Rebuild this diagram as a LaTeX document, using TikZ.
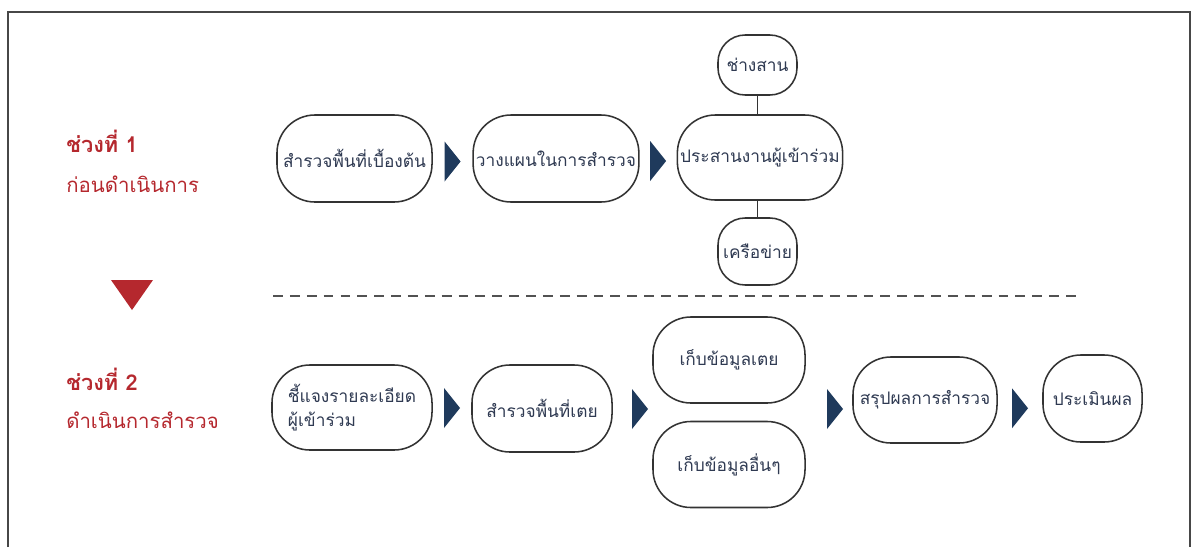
\documentclass[tikz,border=0pt]{standalone}
\usepackage{fontspec}
\setmainfont[Script=Thai]{Loma}
\usetikzlibrary{positioning,calc}
\definecolor{phasered}{HTML}{B5282E}
\definecolor{boxtext}{HTML}{2F3A52}
\definecolor{chevblue}{HTML}{1F3A5C}
\definecolor{boxline}{HTML}{333333}

\newcommand{\chevron}[1]{\fill[chevblue] ($(#1)+(-8,-20)$) -- ($(#1)+(8,0)$) -- ($(#1)+(-8,20)$) -- cycle;}

\begin{document}
\begin{tikzpicture}[x=0.025cm, y=-0.025cm,
    stepbox/.style={draw=boxline, line width=1.1pt, rounded corners=0.95cm, fill=white,
        text=boxtext, font=\fontsize{12.3}{17}\selectfont, align=center, inner sep=2pt},
    smallbox/.style={stepbox, rounded corners=0.68cm},
    phasetitle/.style={anchor=base west, inner sep=0pt, text=phasered, font=\fontsize{15.5}{17}\selectfont\bfseries},
    phasename/.style={anchor=base west, inner sep=0pt, text=phasered, font=\fontsize{14.5}{17}\selectfont}]
    \useasboundingbox (0,0) rectangle (1198,547);
    \draw[boxline!90, line width=1.2pt] (8,547) -- (8,12) -- (1190,12) -- (1190,547);

    \node[phasetitle] (p1) at (66,152) {ช่วงที่ 1};
    \node[phasename] (p1n) at (66,192) {ก่อนดำเนินการ};
    \node[phasetitle] (p2) at (66,390) {ช่วงที่ 2};
    \node[phasename] (p2n) at (66,428) {ดำเนินการสำรวจ};
    \coordinate (down) at (132,295);
    \fill[phasered] ($(down)+(-21,-15)$) -- ($(down)+(21,-15)$) -- ($(down)+(0,15)$) -- cycle;
    \draw[boxline!85, line width=0.9pt, dash pattern=on 7pt off 5pt] (273,296) -- (1080,296);

    \node[stepbox, minimum width=3.875cm, minimum height=2.175cm] (b1) at (354.5,158.5) {สำรวจพื้นที่เบื้องต้น};
    \node[stepbox, minimum width=3.9cm, minimum height=2.175cm] (b2) at (556,158.5) {วางแผนในการสำรวจ};
    \node[stepbox, minimum width=3.75cm, minimum height=2.125cm] (b3) at (760,157.5) {ประสานงานผู้เข้าร่วม};
    \node[smallbox, minimum width=1.975cm, minimum height=1.5cm] (weave) at (757.5,65) {ช่างสาน};
    \node[smallbox, minimum width=1.975cm, minimum height=1.675cm] (net) at (757.5,251.5) {เครือข่าย};
    \draw[boxline, line width=1.1pt] (weave.south) -- (weave.south |- b3.north);
    \draw[boxline, line width=1.1pt] (net.north |- b3.south) -- (net.north);

    \node[stepbox, minimum width=4cm, minimum height=2.125cm, align=left] (c1) at (352,407.5) {ชี้แจงรายละเอียด\\ผู้เข้าร่วม};
    \node[stepbox, minimum width=3.5cm, minimum height=2.175cm] (c2) at (542,408.5) {สำรวจพื้นที่เตย};
    \node[stepbox, minimum width=3.8cm, minimum height=2.15cm] (c3) at (729,360) {เก็บข้อมูลเตย};
    \node[stepbox, minimum width=3.8cm, minimum height=2.15cm] (c4) at (729,464.5) {เก็บข้อมูลอื่นๆ};
    \node[stepbox, minimum width=3.6cm, minimum height=2.15cm] (c5) at (925,400) {สรุปผลการสำรวจ};
    \node[stepbox, minimum width=2.475cm, minimum height=2.175cm] (c6) at (1092.5,398.5) {ประเมินผล};

    \coordinate (g1) at ($(b1.east)!0.5!(b2.west)+(0,3)$);
    \coordinate (g2) at ($(b2.east)!0.5!(b3.west)+(0,3)$);
    \coordinate (h1) at ($(c1.east)!0.5!(c2.west)$);
    \coordinate (h2) at (640,409);
    \coordinate (h3) at (835,409);
    \coordinate (h4) at ($(c5.east)!0.5!(c6.west)+(0,9)$);
    \foreach \g in {g1,g2,h1,h2,h3,h4} {
        \chevron{\g}
    }
\end{tikzpicture}
\end{document}
